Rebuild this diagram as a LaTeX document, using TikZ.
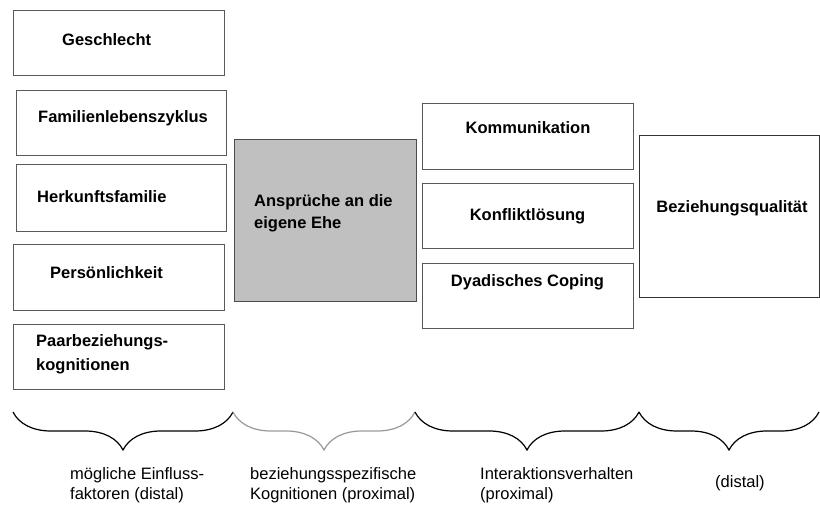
\documentclass[tikz,border=0pt]{standalone}
\usepackage{fontspec}
\setmainfont{Liberation Sans}
\usetikzlibrary{decorations.pathreplacing}

\begin{document}
\begin{tikzpicture}[x=1pt, y=-1pt,
  every node/.style = {inner sep=0pt, font=\fontsize{16.5}{20}\selectfont},
  box/.style = {draw=black!65, line width=0.8pt, anchor=north west,
    rectangle, fill=white},
  boxtext/.style = {font=\fontsize{16.5}{20}\selectfont\bfseries, align=left},
  grouptext/.style = {anchor=west, align=left},
  curly/.style = {decorate, line width=1.2pt,
    decoration={brace, mirror, amplitude=38pt}}]
  \useasboundingbox (0,0) rectangle (820,506);

  % linke Spalte
  \node[box, minimum width=211pt, minimum height=65pt] (gesch) at (13,10) {};
  \node[box, minimum width=210pt, minimum height=65pt] (famil) at (16,90) {};
  \node[box, minimum width=210pt, minimum height=67pt] (herk) at (16,164) {};
  \node[box, minimum width=211pt, minimum height=66pt] (pers) at (13,244) {};
  \node[box, minimum width=211pt, minimum height=65pt] (paar) at (13,324) {};
  \node[boxtext, anchor=west] (gesch-t) at (62,40) {Geschlecht};
  \node[boxtext, anchor=west] (famil-t) at (38,118) {Familienlebenszyklus};
  \node[boxtext, anchor=west] (herk-t) at (37,197) {Herkunftsfamilie};
  \node[boxtext, anchor=west] (pers-t) at (50,273) {Persönlichkeit};
  \node[boxtext, anchor=west] (paar-t) at (36,354)
    {Paarbeziehungs-\\[4pt]kognitionen};

  % Mitte
  \node[box, fill={rgb,255:red,192;green,192;blue,192}, draw=black!70,
    minimum width=182pt, minimum height=162pt] (anspr) at (234,139) {};
  \node[boxtext, anchor=west] (anspr-t) at (254,213)
    {Ansprüche an die\\[2pt]eigene Ehe};

  % Interaktion
  \node[box, minimum width=211pt, minimum height=66pt] (komm) at (422,103) {};
  \node[box, minimum width=211pt, minimum height=65pt] (konfl) at (422,183) {};
  \node[box, minimum width=211pt, minimum height=65pt] (dyad) at (422,263) {};
  \node[boxtext] (komm-t) at (528,128) {Kommunikation};
  \node[boxtext] (konfl-t) at (527.5,216) {Konfliktlösung};
  \node[boxtext] (dyad-t) at (527.5,282) {Dyadisches Coping};

  % Ergebnis
  \node[box, draw=black!80, minimum width=180pt, minimum height=162pt]
    (bezq) at (639,135) {};
  \node[boxtext] (bezq-t) at (732,208) {Beziehungsqualität};

  % Klammern
  \coordinate (k0) at (13,412);
  \coordinate (k1) at (233,412);
  \coordinate (k2) at (415,412);
  \coordinate (k3) at (639,412);
  \coordinate (k4) at (819,412);
  \draw[curly] (k0) -- (k1);
  \draw[curly, draw=black!40] (k1) -- (k2);
  \draw[curly] (k2) -- (k3);
  \draw[curly] (k3) -- (k4);

  \node[grouptext] (dist-a) at (70,485) {mögliche Einfluss-\\faktoren (distal)};
  \node[grouptext] (prox-a) at (250,485)
    {beziehungsspezifische\\Kognitionen (proximal)};
  \node[grouptext] (prox-b) at (480,485) {Interaktionsverhalten\\(proximal)};
  \node[grouptext] (dist-b) at (715,483) {(distal)};
\end{tikzpicture}
\end{document}
